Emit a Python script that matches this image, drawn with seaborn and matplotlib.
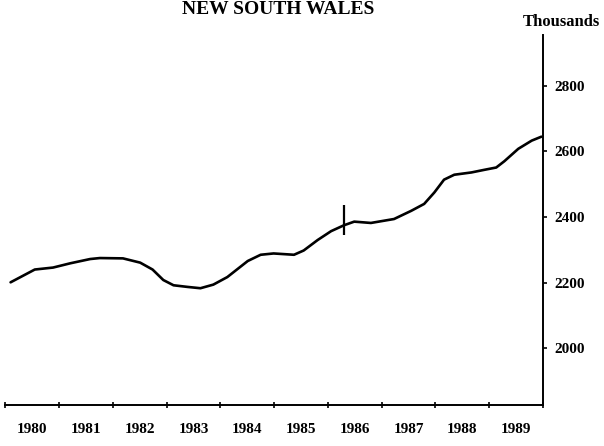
import numpy as np
import pandas as pd
import matplotlib
matplotlib.use("Agg")
import matplotlib.pyplot as plt
import seaborn as sns

# values (year, thousands)
years = [1980.10, 1980.55, 1980.89, 1981.21, 1981.58, 1981.76, 1982.19, 1982.51,
         1982.74, 1982.94, 1983.13, 1983.39, 1983.63, 1983.87, 1984.13, 1984.51,
         1984.75, 1984.99, 1985.37, 1985.55, 1985.81, 1986.06, 1986.30, 1986.49,
         1986.80, 1987.23, 1987.55, 1987.79, 1987.98, 1988.16, 1988.35, 1988.67,
         1988.91, 1989.13, 1989.28, 1989.54, 1989.79, 1989.97]
population = [2201, 2240, 2246, 2259, 2272, 2275, 2274, 2261,
              2240, 2208, 2192, 2187, 2183, 2194, 2217, 2266,
              2285, 2289, 2285, 2298, 2330, 2357, 2375, 2386,
              2382, 2394, 2419, 2440, 2475, 2514, 2529, 2536,
              2544, 2551, 2570, 2608, 2633, 2645]

census_year = [1986.30]
census_value = [2390]

year_labels = ["1980", "1981", "1982", "1983", "1984",
               "1985", "1986", "1987", "1988", "1989"]
y_ticks = [2000, 2200, 2400, 2600, 2800]

df = pd.DataFrame({"year": years, "value": population})

sns.set_style("white")
plt.rcParams["font.family"] = ["Liberation Serif", "DejaVu Serif"]
plt.rcParams["font.weight"] = "bold"
plt.rcParams["text.color"] = "black"
plt.rcParams["xtick.color"] = "black"
plt.rcParams["ytick.color"] = "black"

fig = plt.figure(figsize=(6.04, 4.46), dpi=100)
ax = fig.add_axes([5.2 / 604, 1 - 405 / 446, (543 - 5.2) / 604, (405 - 35) / 446])

sns.lineplot(data=df, x="year", y="value", ax=ax, color="black", linewidth=1.9)
ax.lines[0].set_solid_joinstyle("round")
ax.lines[0].set_solid_capstyle("round")
ax.plot(census_year, census_value, marker="|", color="black",
        markersize=21, markeredgewidth=1.6, linestyle="none")

ax.set_xlim(1980, 1990)
ax.set_ylim(1827, 2955)

for side in ["top", "left"]:
    ax.spines[side].set_visible(False)
for side in ["right", "bottom"]:
    ax.spines[side].set_color("black")
    ax.spines[side].set_linewidth(1.4)

ax.yaxis.tick_right()
ax.set_yticks(y_ticks)
ax.set_yticklabels([str(v) for v in y_ticks], fontsize=11, fontweight="bold")
ax.tick_params(axis="y", right=True, left=False, direction="out", length=3,
               width=1.2, pad=5, colors="black")

ax.set_xticks(range(1980, 1991))
ax.set_xticklabels([])
ax.set_xticks([y + 0.5 for y in range(1980, 1990)], minor=True)
ax.set_xticklabels(year_labels, minor=True, fontsize=11, fontweight="bold")
ax.tick_params(axis="x", which="major", bottom=True, direction="inout", length=4,
               width=1.2, colors="black")
ax.tick_params(axis="x", which="minor", bottom=True, length=0, pad=13, colors="black")

ax.set_xlabel("")
ax.set_ylabel("")
ax.grid(False)

fig.text(278 / 604, 1 - 14 / 446, "NEW SOUTH WALES", ha="center", va="baseline",
         fontsize=14, fontweight="bold", color="black")
fig.text(561 / 604, 1 - 22 / 446, "Thousands", ha="center", va="center",
         fontsize=12, fontweight="bold", color="black")

fig.savefig("out.png", dpi=100)
